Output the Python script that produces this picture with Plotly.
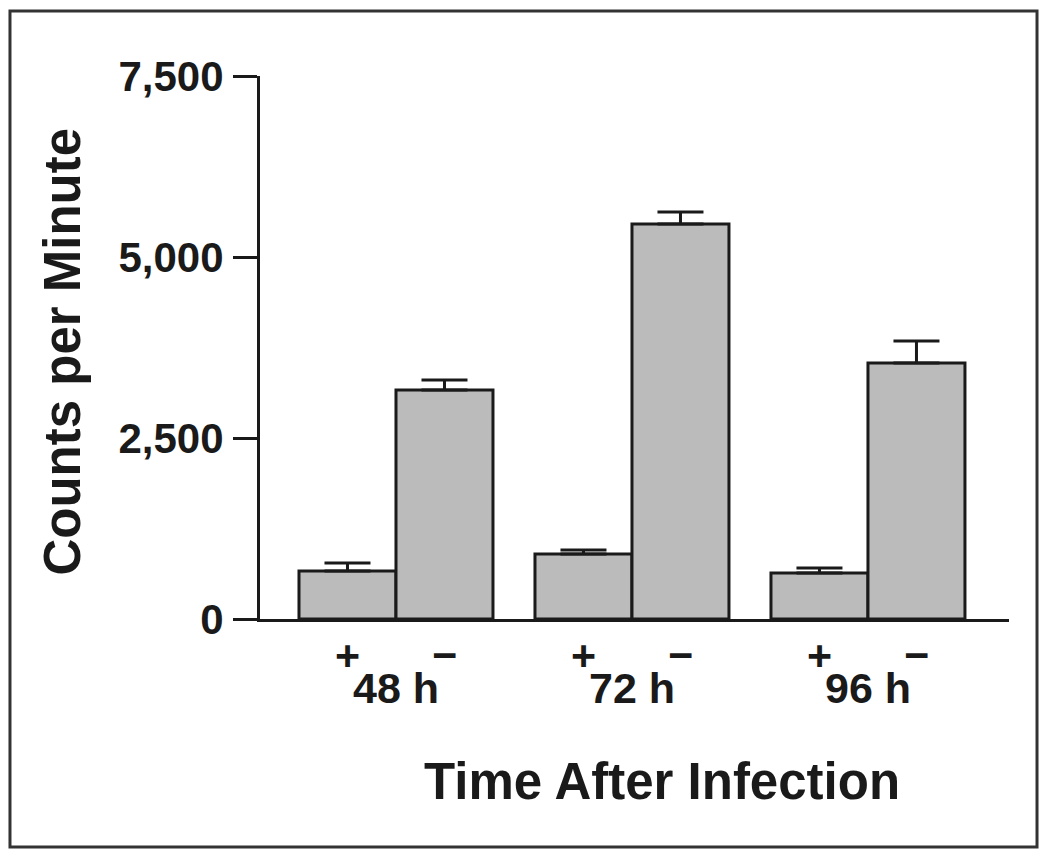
import plotly.graph_objects as go

# ---- data ----
time_points = ["48 h", "72 h", "96 h"]
treatment_labels = ["+", "\u2212"]
cpm_values = [663, 3163, 898, 5456, 635, 3536]      # +,- per time point
cpm_errors = [110, 138, 55, 166, 69, 304]
y_tick_values = [0, 2500, 5000, 7500]
y_tick_labels = ["0", "2,500", "5,000", "7,500"]

# ---- layout constants ----
GROUP_STEP = 2.433          # distance between group starts (in bar widths)
INK = "#1a1a1a"
FONT = "Liberation Sans, Arial, Helvetica, sans-serif"

x_pos = [g * GROUP_STEP + k for g in range(len(time_points)) for k in range(len(treatment_labels))]
x_text = [treatment_labels[k] for g in range(len(time_points)) for k in range(len(treatment_labels))]
group_centers = [g * GROUP_STEP + 0.5 for g in range(len(time_points))]

fig = go.Figure()
fig.add_trace(go.Bar(
    x=x_pos, y=cpm_values, width=1.0,
    marker=dict(color="#bbbbbb", line=dict(color=INK, width=3)),
    error_y=dict(type="data", symmetric=False, array=cpm_errors,
                 arrayminus=[0] * len(cpm_errors),
                 color=INK, thickness=3, width=23),
    showlegend=False, hoverinfo="skip",
))

annotations = []
for xp, t in zip(x_pos, x_text):
    annotations.append(dict(x=xp, y=-0.0663, xref="x", yref="paper", text=f"<b>{t}</b>",
                            showarrow=False, xanchor="center", yanchor="middle",
                            font=dict(family=FONT, size=43, color=INK)))
for name, cx in zip(time_points, group_centers):
    annotations.append(dict(x=cx, y=-0.127, xref="x", yref="paper", text=f"<b>{name}</b>",
                            showarrow=False, xanchor="center", yanchor="middle",
                            font=dict(family=FONT, size=43, color=INK)))
annotations.append(dict(x=0.537, y=-0.299, xref="paper", yref="paper",
                        text="<b>Time After Infection</b>", showarrow=False,
                        xanchor="center", yanchor="middle",
                        font=dict(family=FONT, size=51, color=INK)))
annotations.append(dict(x=-0.265, y=0.4917, xref="paper", yref="paper",
                        text="<b>Counts per Minute</b>", showarrow=False, textangle=-90,
                        xanchor="center", yanchor="middle",
                        font=dict(family=FONT, size=51, color=INK)))

fig.update_layout(
    width=1050, height=857,
    margin=dict(l=252, r=49, t=68, b=246),
    paper_bgcolor="white", plot_bgcolor="white",
    annotations=annotations,
    shapes=[dict(type="rect", xref="paper", yref="paper",
                 x0=-0.3338, x1=1.0374, y0=-0.4199, y1=1.1197,
                 line=dict(color="#333333", width=3))],
    xaxis=dict(range=[-0.902, 6.82], showgrid=False, zeroline=False,
               showline=True, linecolor=INK, linewidth=3,
               showticklabels=False, ticks=""),
    yaxis=dict(range=[0, 7500], showgrid=False, zeroline=False,
               showline=True, linecolor=INK, linewidth=3,
               tickmode="array", tickvals=y_tick_values,
               ticktext=[f"<b>{t}</b>" for t in y_tick_labels],
               ticks="outside", ticklen=24, tickwidth=3, tickcolor=INK,
               ticklabelstandoff=1,
               tickfont=dict(family=FONT, size=42, color=INK)),
)

fig.write_html("out.html")
